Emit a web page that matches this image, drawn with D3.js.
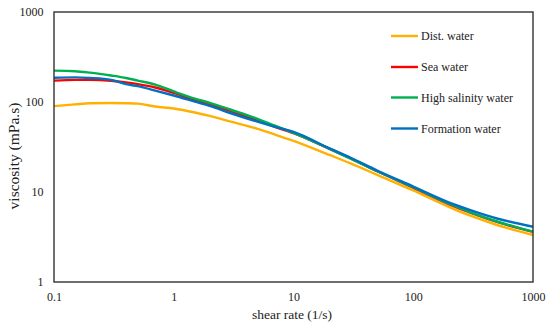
<!DOCTYPE html>
<html><head><meta charset="utf-8">
<script src="https://cdn.jsdelivr.net/npm/d3@7"></script>
<style>body{margin:0;background:#fff}svg{display:block}
svg text{font-family:"Liberation Serif","Times New Roman",Times,"DejaVu Serif",serif !important;fill:#222}</style>
</head><body><svg id="c" width="550" height="327"></svg>
<script>
const shearRates = [0.1,0.15,0.2,0.3,0.4,0.5,0.7,1,1.5,2,3,5,7,10,20,30,50,100,200,300,500,1000];
const distWater  = [90,94,97,97.5,97,96,89,84.7,76.5,70,60.4,50.3,43.5,37,25.8,20.8,15.5,10.4,6.8,5.45,4.3,3.33];
const seaWater   = [173,176,176,172,165,158,145,126,105,94.5,79,62.5,53,45,30.2,23.6,17.0,11.2,7.3,5.9,4.65,3.6];
const highSal    = [223,220,212,197,185,173,156,131,109,98,82,65,54.5,45.5,30.2,23.5,17.0,11.3,7.4,5.95,4.7,3.62];
const formation  = [186,188,185,176,158,150,134,118,101,90.5,75,60.5,53,46.5,30.5,24,17.3,11.5,7.64,6.3,5.08,4.11];
const seriesNames = ["Dist. water","Sea water","High salinity water","Formation water"];
const seriesColors = ["#FFB000","#FF0000","#00B050","#0070C0"];
const xTicks = [0.1,1,10,100,1000];
const yTicks = [1,10,100,1000];

const svg = d3.select("#c");
const L=54,R=533,T=12,B=282;
const x = d3.scaleLog().domain([0.1,1000]).range([L,R]);
const y = d3.scaleLog().domain([1,1000]).range([B,T]);

const data = [distWater,seaWater,highSal,formation];
const line = d3.line().x(d=>x(d[0])).y(d=>y(d[1])).curve(d3.curveMonotoneX);
data.forEach((vals,i)=>{
  svg.append("path").attr("d",line(shearRates.map((s,j)=>[s,vals[j]])))
    .attr("fill","none").attr("stroke",seriesColors[i]).attr("stroke-width",2.4);
});

svg.append("rect").attr("x",L).attr("y",T).attr("width",R-L).attr("height",B-T)
  .attr("fill","none").attr("stroke","#333").attr("stroke-width",1.4);

const xAxis = d3.axisBottom(x).tickValues(xTicks).tickFormat(d=>String(d)).tickSize(0).tickPadding(10);
const gx = svg.append("g").attr("transform",`translate(0,${B})`).call(xAxis);
gx.attr("font-family",null);
gx.select(".domain").remove();
gx.selectAll("text").style("font-size","12px").attr("fill","#222");

const yAxis = d3.axisLeft(y).tickValues(yTicks).tickFormat(d=>String(d)).tickSize(0).tickPadding(10.5);
const gy = svg.append("g").attr("transform",`translate(${L},0)`).call(yAxis);
gy.attr("font-family",null);
gy.select(".domain").remove();
gy.selectAll("text").style("font-size","12px").attr("fill","#222");

svg.append("text").attr("x",292).attr("y",319).attr("text-anchor","middle")
  .style("font-size","13.5px").text("shear rate (1/s)");
svg.append("text").attr("transform",`translate(19,156) rotate(-90)`).attr("text-anchor","middle")
  .style("font-size","15.5px").text("viscosity (mPa.s)");

const legY=[36,67,97.5,128.5];
seriesNames.forEach((n,i)=>{
  svg.append("line").attr("x1",391).attr("x2",418).attr("y1",legY[i]).attr("y2",legY[i])
    .attr("stroke",seriesColors[i]).attr("stroke-width",2.4);
  svg.append("text").attr("x",421).attr("y",legY[i]).attr("dy","0.35em")
    .style("font-size","12px").text(n);
});
</script></body></html>
